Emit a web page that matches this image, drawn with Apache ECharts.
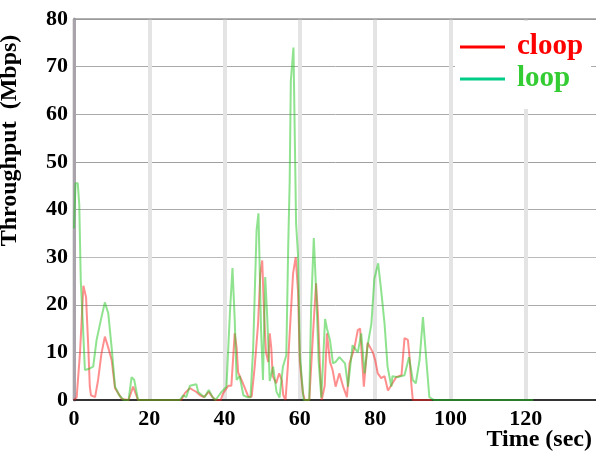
<!DOCTYPE html>
<html><head><meta charset="utf-8">
<script src="https://cdn.jsdelivr.net/npm/echarts@6/dist/echarts.min.js"></script>
<style>html,body{margin:0;padding:0;background:#fff}#c{width:596px;height:453px}</style>
</head><body><div id="c"></div>
<script>
// cloop series (time in sec, throughput in Mbps)
var cloopTime = [0,0.7,1.6,2.5,3.2,3.8,4.2,4.5,5.6,6.4,7.3,8.2,9.1,10.0,10.9,11.7,12.7,14.5,15.7,17.0,28.5,29.5,30.8,31.6,32.5,33.5,34.5,35.8,36.8,37.6,39.0,39.6,41.0,41.8,42.7,43.2,43.6,44.5,45.4,46.3,47.2,48.0,48.9,49.5,50.0,50.5,51.0,51.6,52.0,52.4,52.8,53.7,54.5,55.2,55.6,56.2,56.8,57.5,58.2,58.9,59.5,60.0,60.8,61.3,62.5,63.5,64.3,64.8,65.3,65.8,66.6,67.2,68.0,68.7,69.5,70.5,71.5,72.5,73.2,74.5,75.4,76.0,77.0,78.0,79.4,80.0,80.7,81.6,82.5,83.4,84.2,85.6,87.0,87.8,88.7,89.1,89.6,90.0,95.0];
var cloopVal  = [0,0.5,10,24,21.6,11,2.8,1,0.6,4.2,9.8,13.3,11,8.4,2.5,1.5,0.2,0,2.8,0,0,1.5,2.5,2.1,1.7,1,0.6,1.7,0.6,0,0,1.4,3,3,14,11,5.8,4.2,2.5,0.7,0.7,7,16,26.6,29.3,18,10,8,14,11,5,3.5,5.6,4.2,1,0,7,16.8,26.6,30,23,8,1.5,0,0,14,24.5,18,7.7,0,3,14,8,6.3,2.8,5.6,2.8,0.6,7.7,11,14.7,15,2.8,12,10,8.4,5.6,4.6,5,2,3,4.8,5.2,13,12.6,9.4,3.5,0,0];
// loop series
var loopTime = [0,0.4,1.0,1.4,1.8,2.3,2.9,3.8,5.1,6.0,7.3,8.2,9.1,10.0,10.9,12.0,13.2,14.5,15.3,16.0,17.0,28.1,29.0,29.8,30.8,32.5,33.0,34.0,34.7,35.8,36.8,37.6,39.2,40.5,41.4,42.1,42.7,43.2,44.0,45.0,46.0,46.9,47.6,48.5,49.0,49.7,50.2,50.8,51.3,52.0,52.9,53.8,54.6,55.5,56.4,56.9,57.3,57.6,58.0,58.3,58.7,59.0,59.5,60.0,61.0,62.5,63.0,63.7,64.4,65.0,65.7,66.7,67.2,68.0,68.8,69.5,70.5,72.0,72.8,74.0,75.4,76.3,77.2,78.0,79.0,79.8,80.8,81.6,82.5,83.3,84.3,84.6,86.0,87.8,89.0,90.0,90.8,91.8,92.7,93.6,94.4,95.6,122];
var loopVal  = [36,45.5,45.5,41,25,16.8,6.3,6.5,7,12.6,17.4,20.5,18.2,11,2.8,1,0,0,4.8,4.2,0,0,1,0.6,3,3.3,1.7,1,0.6,2.1,0.6,0,1.7,2.8,18,27.7,16.8,4.2,5,1,0.6,0.6,11,35.6,39.2,14.7,4.2,25.8,18,4,7,1.7,0.5,7,9.4,32,46,67,67,74,74,37,30.6,9.4,0,0,19.5,34,21.6,8,0.5,17,15,12.6,7.7,8,9,7.7,2.8,11.5,10,14,5.6,11.5,16,25.5,28.7,23,16,7,2.8,5,4.8,5.2,9,4.2,3.5,8.4,17.4,8.4,0.6,0,0];
var xTicks = [0,20,40,60,80,100,120];
var yTicks = [0,10,20,30,40,50,60,70,80];
var xTitle = 'Time (sec)';
var yTitle = 'Throughput  (Mbps)';

function zip(a,b){return a.map(function(t,i){return [t,b[i]];});}
var serif = 'Liberation Serif';
var chart = echarts.init(document.getElementById('c'), null, {renderer:'canvas'});
chart.setOption({
  animation:false,
  backgroundColor:'#fff',
  grid:{left:74, top:19, bottom:53, right:-5, containLabel:false, outerBoundsMode:'none'},
  legend:{
    orient:'vertical', left:455, top:21, backgroundColor:'#fff',
    padding:[11,8,15,5], itemGap:2, itemWidth:45, itemHeight:3, icon:'rect',
    textStyle:{fontFamily:serif, fontWeight:'bold', fontSize:29, lineHeight:30, padding:[0,0,0,7]},
    data:[
      {name:'cloop', itemStyle:{color:'#ff0000', opacity:1}, textStyle:{color:'#ff0000'}},
      {name:'loop', itemStyle:{color:'#00cc88', opacity:1}, textStyle:{color:'#33cc33'}}
    ]
  },
  graphic:[{
    type:'text', x:592, y:440, z:10,
    style:{text:xTitle, font:'bold 24px "Liberation Serif"', fill:'#000', textAlign:'right', textVerticalAlign:'middle'}
  }],
  xAxis:[{
    type:'value', min:0, max:140, interval:20,
    axisLine:{lineStyle:{color:'#333', width:2}},
    axisTick:{show:false},
    axisLabel:{fontFamily:serif, fontWeight:'bold', fontSize:22, color:'#000', margin:8,
      formatter:function(v){return xTicks.indexOf(v)>=0? String(v):'';}},
    splitLine:{show:true, lineStyle:{color:'#e4e4e4', width:4}}
  },{
    type:'value', position:'top', min:0, max:140, interval:20,
    axisLine:{lineStyle:{color:'#999', width:1.5}}, axisTick:{show:false}, axisLabel:{show:false}, splitLine:{show:false}
  }],
  yAxis:{
    type:'value', min:0, max:80, interval:10,
    axisLine:{show:true, lineStyle:{color:'#a9a3ab', width:3}},
    axisTick:{show:false},
    axisLabel:{fontFamily:serif, fontWeight:'bold', fontSize:22, color:'#000', margin:6,
      formatter:function(v){return yTicks.indexOf(v)>=0? String(v):'';}},
    splitLine:{show:true, lineStyle:{color:['#aaaaaa','#aaaaaa','#aaaaaa','#bbbbbb','#aaaaaa','#a0a0a0','#aaaaaa','#aaaaaa','#999999'], width:1}},
    name:yTitle, nameLocation:'middle', nameGap:52,
    nameTextStyle:{fontFamily:serif, fontWeight:'bold', fontSize:24, color:'#000', padding:[0,0,0,138]}
  },
  series:[
    {name:'cloop', type:'line', data:zip(cloopTime,cloopVal), showSymbol:false, symbol:'none',
     lineStyle:{color:'#ff2020', width:2, opacity:0.5}, itemStyle:{color:'#ff2020'}, z:3},
    {name:'loop', type:'line', data:zip(loopTime,loopVal), showSymbol:false, symbol:'none',
     lineStyle:{color:'#20c820', width:2, opacity:0.5}, itemStyle:{color:'#00cc88'}, z:4}
  ]
});
</script></body></html>
